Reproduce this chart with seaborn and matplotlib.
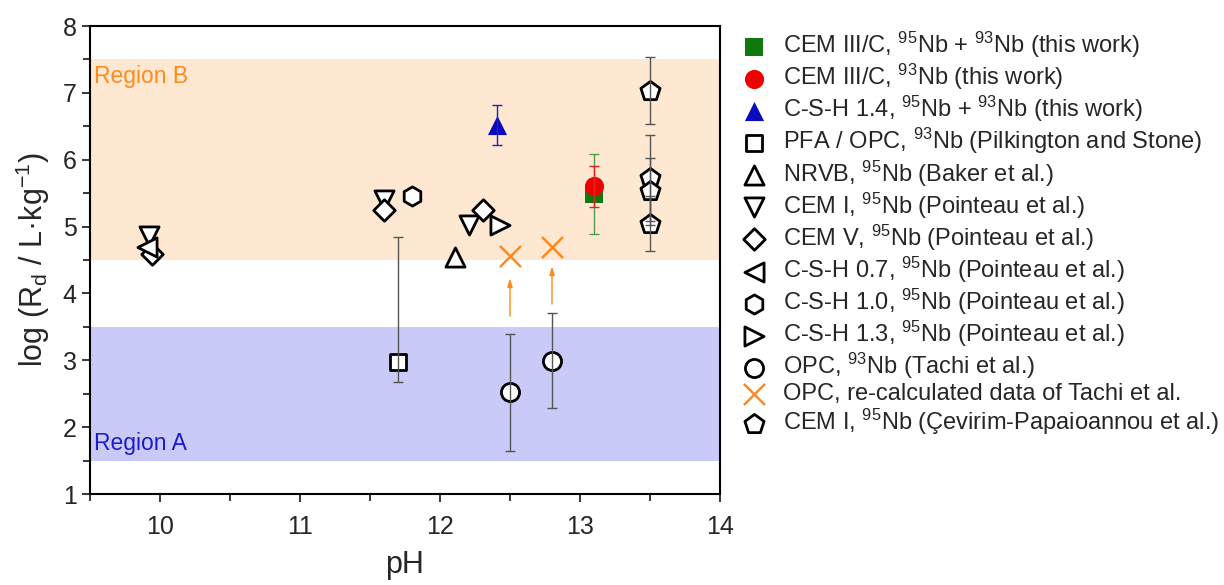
import matplotlib
matplotlib.use("Agg")
import matplotlib.pyplot as plt
import seaborn as sns
import pandas as pd

# data: pH vs log(Rd)
cem3c_both_ph = [13.1]
cem3c_both_rd = [5.49]
cem3c_both_err = [0.6]

cem3c_93_ph = [13.1]
cem3c_93_rd = [5.6]
cem3c_93_err = [0.3]

csh14_ph = [12.41]
csh14_rd = [6.52]
csh14_err = [0.3]

pfa_opc_ph = [11.7]
pfa_opc_rd = [2.98]
pfa_opc_err_lo = [0.3]
pfa_opc_err_hi = [1.87]

nrvb_ph = [12.11]
nrvb_rd = [4.54]

cem1_poin_ph = [9.92, 11.6, 12.21]
cem1_poin_rd = [4.86, 5.4, 5.03]

cem5_poin_ph = [9.94, 11.6, 12.31]
cem5_poin_rd = [4.59, 5.25, 5.25]

csh07_ph = [9.91]
csh07_rd = [4.69]

csh10_ph = [11.8]
csh10_rd = [5.45]

csh13_ph = [12.43]
csh13_rd = [5.02]

tachi_ph = [12.5, 12.8]
tachi_rd = [2.52, 2.99]
tachi_err = [0.88, 0.71]

recalc_ph = [12.5, 12.8]
recalc_rd = [4.56, 4.7]
arrow_from = [3.62, 3.8]
arrow_to = [4.27, 4.45]

cevirim_ph = [13.5, 13.5, 13.5, 13.5]
cevirim_rd = [7.03, 5.73, 5.53, 5.04]
cevirim_err = [0.5, 0.64, 0.5, 0.41]

sns.set_style("ticks")
plt.rcParams["font.family"] = ["Liberation Sans", "DejaVu Sans"]
plt.rcParams["mathtext.fontset"] = "custom"
plt.rcParams["mathtext.rm"] = "Liberation Sans"
plt.rcParams["mathtext.it"] = "Liberation Sans:italic"
plt.rcParams["mathtext.bf"] = "Liberation Sans:bold"

fig = plt.figure(figsize=(12.24, 5.85), dpi=100)
ax = fig.add_axes([90/1224, 1 - 494/585, 630/1224, 468/585])

ax.axhspan(4.5, 7.5, color="#FFE8D2", zorder=0, lw=0)
ax.axhspan(1.5, 3.5, color="#CACAF8", zorder=0, lw=0)
ax.text(9.53, 7.25, "Region B", color="#FF8A1C", fontsize=16.5, va="center")
ax.text(9.53, 1.75, "Region A", color="#1C1CC8", fontsize=16.5, va="center")

gray = "#555555"
ekw = dict(fmt="none", capsize=3.6, elinewidth=1, capthick=1, zorder=4)
ax.errorbar(cem3c_both_ph, cem3c_both_rd, yerr=cem3c_both_err, ecolor="#4E9A4E", **ekw)
ax.errorbar(cem3c_93_ph, cem3c_93_rd, yerr=cem3c_93_err, ecolor="#E02020", **ekw)
ax.errorbar(csh14_ph, csh14_rd, yerr=csh14_err, ecolor="#2020C0", **ekw)
ax.errorbar(pfa_opc_ph, pfa_opc_rd, yerr=[pfa_opc_err_lo, pfa_opc_err_hi], ecolor=gray, **ekw)
ax.errorbar(tachi_ph, tachi_rd, yerr=tachi_err, ecolor=gray, **ekw)
ax.errorbar(cevirim_ph, cevirim_rd, yerr=cevirim_err, ecolor=gray, **ekw)

for x, y0, y1 in zip(recalc_ph, arrow_from, arrow_to):
    ax.annotate("", xy=(x, y1), xytext=(x, y0),
                arrowprops=dict(arrowstyle="-|>,head_length=0.5,head_width=0.15",
                                color="#FF8A1C", lw=1), zorder=3)

series = [
    (r"CEM III/C, $^{95}$Nb + $^{93}$Nb (this work)", cem3c_both_ph, cem3c_both_rd, "s", "#0E7A0E", "#0E7A0E", 150),
    (r"CEM III/C, $^{93}$Nb (this work)", cem3c_93_ph, cem3c_93_rd, "o", "#EE0000", "#EE0000", 190),
    (r"C-S-H 1.4, $^{95}$Nb + $^{93}$Nb (this work)", csh14_ph, csh14_rd, "^", "#0A0ABF", "#0A0ABF", 190),
    (r"PFA / OPC, $^{93}$Nb (Pilkington and Stone)", pfa_opc_ph, pfa_opc_rd, "s", "white", "black", 120),
    (r"NRVB, $^{95}$Nb (Baker et al.)", nrvb_ph, nrvb_rd, "^", "white", "black", 190),
    (r"CEM I, $^{95}$Nb (Pointeau et al.)", cem1_poin_ph, cem1_poin_rd, "v", "white", "black", 190),
    (r"CEM V, $^{95}$Nb (Pointeau et al.)", cem5_poin_ph, cem5_poin_rd, "D", "white", "black", 120),
    (r"C-S-H 0.7, $^{95}$Nb (Pointeau et al.)", csh07_ph, csh07_rd, "<", "white", "black", 190),
    (r"C-S-H 1.0, $^{95}$Nb (Pointeau et al.)", csh10_ph, csh10_rd, "h", "white", "black", 190),
    (r"C-S-H 1.3, $^{95}$Nb (Pointeau et al.)", csh13_ph, csh13_rd, ">", "white", "black", 190),
    (r"OPC, $^{93}$Nb (Tachi et al.)", tachi_ph, tachi_rd, "o", "white", "black", 170),
    ("OPC, re-calculated data of Tachi et al.", recalc_ph, recalc_rd, "x", "#FF8A1C", "#FF8A1C", 230),
    (r"CEM I, $^{95}$Nb (Çevirim-Papaioannou et al.)", cevirim_ph, cevirim_rd, "p", "white", "black", 210),
]

for label, xs, ys, mk, fc, ec, size in series:
    df = pd.DataFrame({"pH": xs, "logRd": ys})
    if mk == "x":
        sns.scatterplot(data=df, x="pH", y="logRd", marker=mk, color=fc, s=size,
                        linewidth=1.8, label=label, ax=ax, zorder=3)
    else:
        sns.scatterplot(data=df, x="pH", y="logRd", marker=mk, color=fc, edgecolor=ec,
                        s=size, linewidth=2 if fc == "white" else 0, label=label, ax=ax, zorder=3)

ax.set_xlim(9.5, 14)
ax.set_ylim(1, 8)
ax.set_xticks([10, 11, 12, 13, 14])
ax.set_xticks([9.5, 10.5, 11.5, 12.5, 13.5], minor=True)
ax.set_yticks(range(1, 9))
ax.set_yticks([1.5, 2.5, 3.5, 4.5, 5.5, 6.5, 7.5], minor=True)
ax.tick_params(which="both", direction="out", width=1.3, labelsize=18, top=False, right=False)
ax.tick_params(which="major", length=6)
ax.tick_params(which="minor", length=5)
ax.tick_params(axis="x", pad=9)
for sp in ax.spines.values():
    sp.set_visible(True)
    sp.set_linewidth(1.5)
    sp.set_color("black")

ax.set_xlabel("pH", fontsize=22, labelpad=8)
ax.set_ylabel(r"log (R$_\mathrm{d}$ / L·kg$^{-1}$)", fontsize=22, labelpad=8)

handles, labels = ax.get_legend_handles_labels()
ax.get_legend().remove()
fig.legend(handles, labels, loc="upper left", bbox_to_anchor=(742/1224, 1 - 30/585),
           frameon=False, fontsize=17, handlelength=1.0, handletextpad=0.75,
           labelspacing=0.08, borderpad=0, borderaxespad=0)

fig.savefig("out.png", dpi=100)
